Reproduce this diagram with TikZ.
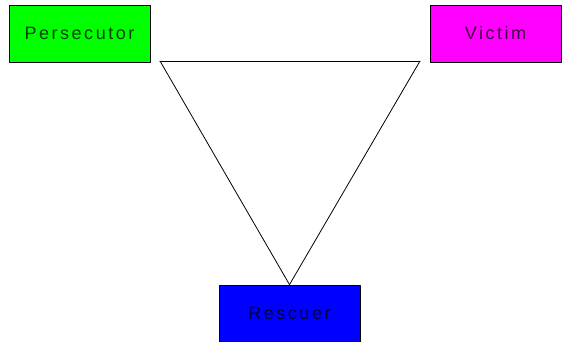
\documentclass[tikz,border=0pt]{standalone}
\usepackage{fontspec}
\newfontfamily\rolefont{Liberation Sans}[LetterSpace=14]
\usepackage{tikz}
\usetikzlibrary{arrows}

\begin{document}
\begin{tikzpicture}[line cap=round,line join=round,x=1pt,y=-1pt,
    role/.style={draw=black,line width=0.8pt,inner sep=0pt,minimum height=57pt,
        font=\rolefont\fontsize{18}{20}\selectfont,text=black,text opacity=0.75}]
            \clip (0,0) rectangle (562,341);
            \fill[white] (0,0) rectangle (562,341);
            \node[role,fill={rgb,255:red,0;green,255;blue,0},minimum width=141pt] (persecutor) at (79.5,33.5) {Persecutor};
            \node[role,fill={rgb,255:red,255;green,0;blue,255},minimum width=131pt] (victim) at (495.5,33.5) {Victim};
            \node[role,fill={rgb,255:red,0;green,0;blue,255},minimum width=141pt] (rescuer) at (289.5,313.5) {Rescuer};
            \coordinate (left) at (160,61);
            \coordinate (right) at (420,61);
            \draw [line width=0.8pt] (left)-- (right);
            \draw [line width=0.8pt] (right)-- (rescuer.north);
            \draw [line width=0.8pt] (rescuer.north)-- (left);
\end{tikzpicture}
\end{document}
